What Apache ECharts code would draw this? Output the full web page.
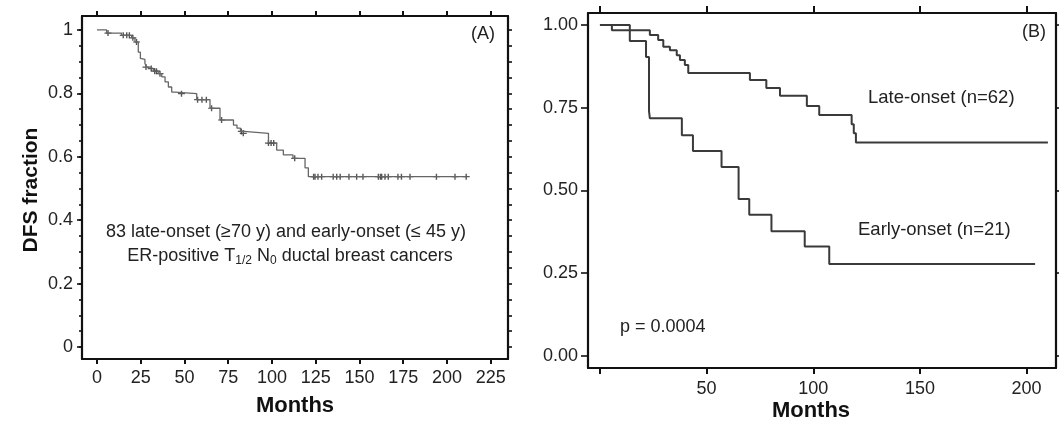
<!DOCTYPE html>
<html>
<head>
<meta charset="utf-8">
<script src="https://cdn.jsdelivr.net/npm/echarts@6/dist/echarts.min.js"></script>
<style>
html,body{margin:0;padding:0;background:#fff;}
#c{width:1059px;height:424px;}
</style>
</head>
<body>
<div id="c"></div>
<script>
// ---------- Panel A data (all 83 patients) ----------
const aTimes = [0, 5.5, 14, 19.8, 21.7, 23.6, 24.8, 25.5, 27.4, 28.4, 30.3, 32.2, 35, 37, 38.9, 40.8, 42.7, 44.6, 57, 64.6, 70.3, 78, 80, 82, 84, 98, 102.7, 106.5, 112, 118.9, 120.8, 211];
const aSurv  = [1, 0.99, 0.983, 0.975, 0.962, 0.93, 0.91, 0.907, 0.894, 0.883, 0.878, 0.87, 0.862, 0.852, 0.836, 0.82, 0.804, 0.799, 0.78, 0.753, 0.716, 0.70, 0.69, 0.68, 0.674, 0.643, 0.621, 0.606, 0.595, 0.565, 0.537, 0.537];
const aCensorTimes = [6.3, 15, 17, 18.5, 20.5, 22.6, 28, 31, 33, 34, 36, 48.3, 57.5, 60, 62.5, 65.5, 71.2, 82.5, 83.6, 98, 99.5, 101, 113, 123.8, 124.6, 126.3, 128.4, 135, 137, 139, 144, 148.4, 152, 160.8, 162, 162.7, 164.6, 166.5, 172, 174, 178.9, 194, 204.6, 211];
const aCensorSurv  = [0.99, 0.983, 0.983, 0.983, 0.975, 0.962, 0.883, 0.878, 0.87, 0.87, 0.862, 0.799, 0.78, 0.78, 0.78, 0.753, 0.716, 0.68, 0.674, 0.643, 0.643, 0.643, 0.595, 0.537, 0.537, 0.537, 0.537, 0.537, 0.537, 0.537, 0.537, 0.537, 0.537, 0.537, 0.537, 0.537, 0.537, 0.537, 0.537, 0.537, 0.537, 0.537, 0.537, 0.537];
const aXTicks = [0, 25, 50, 75, 100, 125, 150, 175, 200, 225];
const aYTicks = [0, 0.2, 0.4, 0.6, 0.8, 1];
const aYMinorTicks = [0, 0.05, 0.1, 0.15, 0.2, 0.25, 0.3, 0.35, 0.4, 0.45, 0.5, 0.55, 0.6, 0.65, 0.7, 0.75, 0.8, 0.85, 0.9, 0.95, 1];

// ---------- Panel B data ----------
const lateTimes = [0, 5.6, 23.4, 27.3, 29.7, 32.8, 36, 37.5, 39.8, 41.4, 70.3, 78, 84.4, 97, 102.8, 118, 119, 120, 210];
const lateSurv  = [1, 0.984, 0.97, 0.955, 0.934, 0.924, 0.909, 0.894, 0.879, 0.855, 0.834, 0.81, 0.786, 0.755, 0.728, 0.70, 0.673, 0.645, 0.645];
const earlyTimes = [0, 14, 21.6, 23.0, 23.4, 38.4, 43.6, 57, 65, 70, 80.4, 96, 107.5, 204];
const earlySurv  = [1, 0.952, 0.903, 0.74, 0.718, 0.667, 0.619, 0.571, 0.474, 0.427, 0.377, 0.331, 0.278, 0.278];
const bXTicks = [0, 50, 100, 150, 200];
const bXLabels = [50, 100, 150, 200];
const bYTicks = [0, 0.25, 0.5, 0.75, 1];

const pairs = (xs, ys) => xs.map((x, i) => [x, ys[i]]);

const FONT = '"Liberation Sans", Arial, Helvetica, sans-serif';
const BLACK = '#111';
const TXT = '#222';

function xAx(grid, pos, min, max, ticks, labels, tickLen, showLabel, margin) {
  return {
    type: 'value', gridIndex: grid, position: pos, min: min, max: max,
    axisLine: { show: true, onZero: false, lineStyle: { color: BLACK, width: 2.2 } },
    axisTick: { show: true, customValues: ticks, length: tickLen, inside: false, lineStyle: { color: BLACK, width: 2 } },
    axisLabel: { show: showLabel, customValues: labels, fontSize: 18, fontFamily: FONT, color: TXT, margin: margin },
    splitLine: { show: false }
  };
}
function yAx(grid, pos, min, max, ticks, labels, tickLen, showLabel, margin, fmt, showLine) {
  return {
    type: 'value', gridIndex: grid, position: pos, min: min, max: max,
    axisLine: { show: showLine, onZero: false, lineStyle: { color: BLACK, width: 2.2 } },
    axisTick: { show: true, customValues: ticks, length: tickLen, inside: false, lineStyle: { color: BLACK, width: 1.6 } },
    axisLabel: { show: showLabel, customValues: labels, fontSize: 18, fontFamily: FONT, color: TXT, margin: margin, formatter: fmt },
    splitLine: { show: false }
  };
}

const plus = 'path://M4,0 H6 V4 H10 V6 H6 V10 H4 V6 H0 V4 H4 Z';

const aXMin = -8.57, aXMax = 234.9, aYMin = -0.038, aYMax = 1.044;
const bXMin = -5.6, bXMax = 213.8, bYMin = -0.0363, bYMax = 1.0363;

const option = {
  animation: false,
  backgroundColor: '#fff',
  grid: [
    { left: 82, top: 16, width: 426, height: 343 },
    { left: 588, top: 13, width: 468, height: 355 }
  ],
  xAxis: [
    xAx(0, 'bottom', aXMin, aXMax, aXTicks, aXTicks, 5, true, 10),
    xAx(0, 'top', aXMin, aXMax, aXTicks, aXTicks, 5, false, 8),
    xAx(1, 'bottom', bXMin, bXMax, bXTicks, bXLabels, 6, true, 12),
    xAx(1, 'top', bXMin, bXMax, bXTicks, bXTicks, 7, false, 8)
  ],
  yAxis: [
    yAx(0, 'left', aYMin, aYMax, aYTicks, aYTicks, 5, true, 9, v => String(+(+v).toFixed(1)), true),
    yAx(0, 'left', aYMin, aYMax, aYMinorTicks, aYTicks, 3, false, 9, null, false),
    yAx(0, 'right', aYMin, aYMax, aYMinorTicks, aYTicks, 4, false, 8, null, true),
    yAx(1, 'left', bYMin, bYMax, bYTicks, bYTicks, 7, true, 10, v => (+v).toFixed(2), true),
    yAx(1, 'right', bYMin, bYMax, bYTicks, bYTicks, 5, false, 8, null, true)
  ],
  series: [
    {
      type: 'line', xAxisIndex: 0, yAxisIndex: 0, step: 'end', showSymbol: false,
      data: pairs(aTimes, aSurv),
      lineStyle: { color: '#666', width: 1.3 }
    },
    {
      type: 'scatter', xAxisIndex: 0, yAxisIndex: 0, symbol: plus, symbolSize: [7, 6],
      data: pairs(aCensorTimes, aCensorSurv),
      itemStyle: { color: '#3a3a3a', opacity: 0.85 }
    },
    {
      type: 'line', xAxisIndex: 2, yAxisIndex: 3, step: 'end', showSymbol: false,
      data: pairs(lateTimes, lateSurv),
      lineStyle: { color: '#3a3a3a', width: 2 }
    },
    {
      type: 'line', xAxisIndex: 2, yAxisIndex: 3, step: 'end', showSymbol: false,
      data: pairs(earlyTimes, earlySurv),
      lineStyle: { color: '#3a3a3a', width: 2 }
    }
  ],
  graphic: [
    { type: 'text', x: 31, y: 190, rotation: Math.PI / 2,
      style: { text: 'DFS fraction', font: 'bold 21px ' + FONT, fill: BLACK, textAlign: 'center', align: 'center', textVerticalAlign: 'middle', verticalAlign: 'middle' } },
    { type: 'text', x: 295, y: 406,
      style: { text: 'Months', font: 'bold 22px ' + FONT, fill: BLACK, textAlign: 'center', align: 'center', textVerticalAlign: 'middle', verticalAlign: 'middle' } },
    { type: 'text', x: 811, y: 411,
      style: { text: 'Months', font: 'bold 22px ' + FONT, fill: BLACK, textAlign: 'center', align: 'center', textVerticalAlign: 'middle', verticalAlign: 'middle' } },
    { type: 'text', x: 495, y: 34,
      style: { text: '(A)', font: '18px ' + FONT, fill: TXT, textAlign: 'right', align: 'right', textVerticalAlign: 'middle', verticalAlign: 'middle' } },
    { type: 'text', x: 1046, y: 32,
      style: { text: '(B)', font: '18px ' + FONT, fill: TXT, textAlign: 'right', align: 'right', textVerticalAlign: 'middle', verticalAlign: 'middle' } },
    { type: 'text', x: 286, y: 232,
      style: { text: '83 late-onset (\u226570 y) and early-onset (\u2264 45 y)', font: '18px ' + FONT, fill: TXT, textAlign: 'center', align: 'center', textVerticalAlign: 'middle', verticalAlign: 'middle' } },
    { type: 'text', x: 290, y: 256,
      style: {
        text: 'ER-positive T{sub|1/2} N{sub|0} ductal breast cancers',
        font: '18px ' + FONT, fontSize: 18, fontFamily: FONT, fill: TXT,
        textAlign: 'center', align: 'center', textVerticalAlign: 'middle', verticalAlign: 'middle',
        rich: { sub: { fontSize: 12, fontFamily: FONT, fill: TXT, padding: [10, 0, 0, 0] } }
      } },
    { type: 'text', x: 868, y: 98,
      style: { text: 'Late-onset (n=62)', font: '18.5px ' + FONT, fill: TXT, textAlign: 'left', align: 'left', textVerticalAlign: 'middle', verticalAlign: 'middle' } },
    { type: 'text', x: 858, y: 230,
      style: { text: 'Early-onset (n=21)', font: '18.5px ' + FONT, fill: TXT, textAlign: 'left', align: 'left', textVerticalAlign: 'middle', verticalAlign: 'middle' } },
    { type: 'text', x: 620, y: 327,
      style: { text: 'p = 0.0004', font: '18px ' + FONT, fill: TXT, textAlign: 'left', align: 'left', textVerticalAlign: 'middle', verticalAlign: 'middle' } }
  ]
};

const chart = echarts.init(document.getElementById('c'), null, { renderer: 'canvas' });
chart.setOption(option);
</script>
</body>
</html>
